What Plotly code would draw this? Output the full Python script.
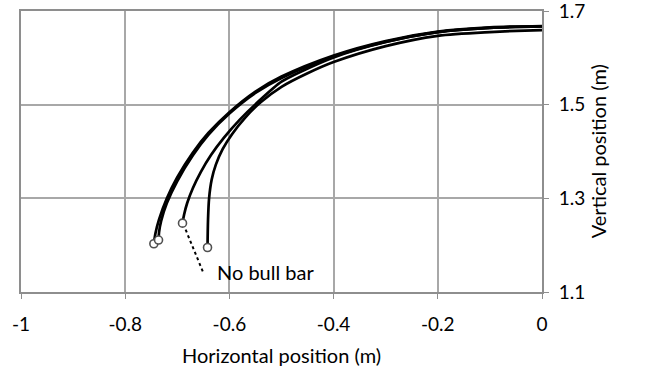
import plotly.graph_objects as go

# Head trajectories (horizontal vs vertical position, metres)
traj_a_x = [0.0, -0.1, -0.2, -0.3, -0.4, -0.5, -0.55, -0.6, -0.64, -0.67, -0.70, -0.72, -0.735, -0.742, -0.745]
traj_a_y = [1.668, 1.665, 1.656, 1.636, 1.605, 1.560, 1.528, 1.484, 1.440, 1.398, 1.345, 1.300, 1.255, 1.225, 1.203]

traj_b_x = [0.0, -0.1, -0.2, -0.3, -0.4, -0.5, -0.55, -0.6, -0.64, -0.67, -0.70, -0.72, -0.731, -0.735, -0.736]
traj_b_y = [1.667, 1.664, 1.655, 1.634, 1.603, 1.557, 1.525, 1.481, 1.436, 1.392, 1.337, 1.290, 1.252, 1.228, 1.211]

# Run without the bull bar
traj_c_x = [0.003, -0.1, -0.2, -0.3, -0.4, -0.46, -0.5, -0.545, -0.58, -0.61, -0.635, -0.655, -0.670, -0.681, -0.687, -0.690]
traj_c_y = [1.667, 1.664, 1.655, 1.634, 1.601, 1.572, 1.549, 1.506, 1.468, 1.430, 1.393, 1.356, 1.322, 1.290, 1.265, 1.247]

traj_d_x = [0.012, 0.0, -0.1, -0.2, -0.3, -0.4, -0.45, -0.5, -0.54, -0.57, -0.595, -0.613, -0.626, -0.634, -0.639, -0.641, -0.642]
traj_d_y = [1.659, 1.659, 1.655, 1.647, 1.625, 1.591, 1.567, 1.538, 1.505, 1.472, 1.437, 1.405, 1.372, 1.340, 1.300, 1.255, 1.195]

x_ticks = [-1, -0.8, -0.6, -0.4, -0.2, 0]
x_tick_text = ["-1", "-0.8", "-0.6", "-0.4", "-0.2", "0"]
y_ticks = [1.1, 1.3, 1.5, 1.7]
y_tick_text = ["1.1", "1.3", "1.5", "1.7"]

x_title = "Horizontal position (m)"
y_title = "Vertical position (m)"
label_text = "No bull bar"

FONT = "Lato, 'Open Sans', sans-serif"
GRID = "#a8a8a8"
AXIS = "#8e8e8e"

trajectories = [
    (traj_a_x, traj_a_y),
    (traj_b_x, traj_b_y),
    (traj_c_x, traj_c_y),
    (traj_d_x, traj_d_y),
]

fig = go.Figure()

for tx, ty in trajectories:
    fig.add_trace(go.Scatter(
        x=tx, y=ty, mode="lines",
        line=dict(color="black", width=2.7, shape="spline", smoothing=0.8),
        showlegend=False, hoverinfo="skip",
    ))

# Open circles at the end of each trajectory
fig.add_trace(go.Scatter(
    x=[tx[-1] for tx, _ in trajectories],
    y=[ty[-1] for _, ty in trajectories],
    mode="markers",
    marker=dict(size=8, color="white", line=dict(color="#505050", width=1.6)),
    showlegend=False, hoverinfo="skip",
))

# Dotted leader from the no-bull-bar end point to its label
label_x, label_y = -0.628, 1.143
fig.add_shape(
    type="line", xref="x", yref="y",
    x0=traj_c_x[-1] + 0.006, y0=traj_c_y[-1] - 0.014,
    x1=label_x - 0.022, y1=label_y - 0.002,
    line=dict(color="black", width=2, dash="dot"),
)
fig.add_annotation(
    x=label_x, y=label_y, text=label_text, showarrow=False,
    xanchor="left", yanchor="middle",
    font=dict(family=FONT, size=20, color="black"),
)

# Axis titles
fig.add_annotation(
    x=0.5, y=-0.225, xref="paper", yref="paper", text=x_title,
    showarrow=False, xanchor="center", yanchor="middle",
    font=dict(family=FONT, size=20, color="black"),
)
fig.add_annotation(
    x=1.107, y=0.5, xref="paper", yref="paper", text=y_title,
    showarrow=False, xanchor="center", yanchor="middle", textangle=-90,
    font=dict(family=FONT, size=20, color="black"),
)

fig.update_layout(
    width=646, height=383,
    margin=dict(l=21, r=104, t=11, b=91, autoexpand=False),
    paper_bgcolor="white", plot_bgcolor="white",
    font=dict(family=FONT, size=19, color="black"),
)

fig.update_xaxes(
    range=[-1, 0], tickvals=x_ticks, ticktext=x_tick_text,
    showgrid=True, gridcolor=GRID, gridwidth=2,
    showline=True, linecolor=AXIS, linewidth=2, mirror=True,
    ticks="outside", ticklen=5, tickcolor=AXIS, tickwidth=1,
    ticklabelstandoff=9, zeroline=False, automargin=False,
    ticklabeloverflow="allow",
)

fig.update_yaxes(
    range=[1.1, 1.7], side="right", tickvals=y_ticks, ticktext=y_tick_text,
    showgrid=True, gridcolor=GRID, gridwidth=2,
    showline=True, linecolor=AXIS, linewidth=2, mirror=True,
    ticks="outside", ticklen=5, tickcolor=AXIS, tickwidth=1,
    ticklabelstandoff=6, zeroline=False, automargin=False,
    ticklabeloverflow="allow",
)

fig.write_html("out.html")
